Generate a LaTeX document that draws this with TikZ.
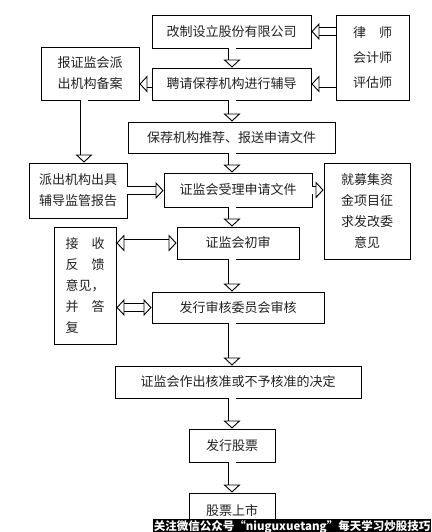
\documentclass[tikz,border=0pt]{standalone}
\usepackage{fontspec}
\usepackage{tikz}
\usetikzlibrary{arrows.meta}
\newfontfamily\cjk{Noto Sans CJK SC}
\definecolor{txtgray}{HTML}{222222}

\begin{document}
\begin{tikzpicture}[x=1pt,y=-1pt,
  box/.style={draw,line width=0.9pt,inner sep=0pt,align=center,text=txtgray,font=\cjk\fontsize{13}{21}\selectfont},
  harrow/.style={double,double distance=7pt,line width=0.9pt,-{Triangle[open,width=17pt,length=8pt]}},
  hboth/.style={double,double distance=7pt,line width=0.9pt,{Triangle[open,width=17pt,length=8pt]}-{Triangle[open,width=17pt,length=8pt]}}]
\path[use as bounding box,fill=white] (0,0) rectangle (431,532);
\coordinate (ax) at (232,0);
\coordinate (bx) at (84,0);
% top part
\node[box,minimum width=159,minimum height=33] (gz) at (231.5,31.5) {改制设立股份有限公司};
\node[box,minimum width=159,minimum height=32] (pq) at (231.5,84) {聘请保荐机构进行辅导};
\node[box,minimum width=98,minimum height=53] (ba) at (90,73.5) {报证监会派\\出机构备案};
\node[box,minimum width=73,minimum height=85,font=\cjk\fontsize{13}{25}\selectfont] (rs) at (372.5,57.5) {律　师\\会计师\\评估师};
\node[box,minimum width=207,minimum height=31] (bj) at (231.5,137.5) {保荐机构推荐、报送申请文件};
% middle part
\node[box,minimum width=98,minimum height=55] (pc) at (78,190.5) {派出机构出具\\辅导监管报告};
\node[box,minimum width=148,minimum height=34] (sl) at (238,190) {证监会受理申请文件};
\node[box,minimum width=86,minimum height=96] (fg) at (367,211) {就募集资\\金项目征\\求发改委\\意见};
\node[box,minimum width=122,minimum height=32] (cs) at (238,243) {证监会初审};
\node[box,minimum width=62,minimum height=117,align=left] (fk) at (85,285.5) {接　收\\反　馈\\意见，\\并　答\\复};
\node[box,minimum width=172,minimum height=31] (fs) at (238,307.5) {发行审核委员会审核};
% bottom part
\node[box,minimum width=246,minimum height=32] (hz) at (238,382) {证监会作出核准或不予核准的决定};
\node[box,minimum width=86,minimum height=33] (fx) at (232,445.5) {发行股票};
\node[box,minimum width=86,minimum height=35] (ss) at (232,510.5) {股票上市};
% arrows
\draw[harrow] (rs.west |- gz) -- (gz.east);
\draw[harrow] (rs.west |- pq) -- (pq.east);
\draw[harrow] (pq.west) -- (pq.west -| ba.east);
\draw[harrow] (ba.south -| bx) -- (pc.north -| bx);
\draw[harrow] (gz.south -| ax) -- (pq.north -| ax);
\draw[harrow] (pq.south -| ax) -- (bj.north -| ax);
\draw[harrow] (bj.south -| ax) -- (sl.north -| ax);
\draw[harrow] (pc.east) -- (pc.east -| sl.west);
\draw[harrow] (sl.east) -- (sl.east -| fg.west);
\draw[harrow] (sl.south -| ax) -- (cs.north -| ax);
\draw[hboth] (cs.west) -- (cs.west -| fk.east);
\draw[harrow] (cs.south -| ax) -- (fs.north -| ax);
\draw[hboth] (fs.west) -- (fs.west -| fk.east);
\draw[harrow] (fs.south -| ax) -- (hz.north -| ax);
\draw[harrow] (hz.south -| ax) -- (fx.north -| ax);
\draw[harrow] (fx.south -| ax) -- (ss.north -| ax);
% watermark
\node[fill=black,text=white,inner sep=0pt,minimum width=278,minimum height=15,font=\cjk\bfseries\fontsize{11.5}{12}\selectfont] (wm) at (292,526.5) {关注微信公众号“niuguxuetang”每天学习炒股技巧};
\end{tikzpicture}
\end{document}
